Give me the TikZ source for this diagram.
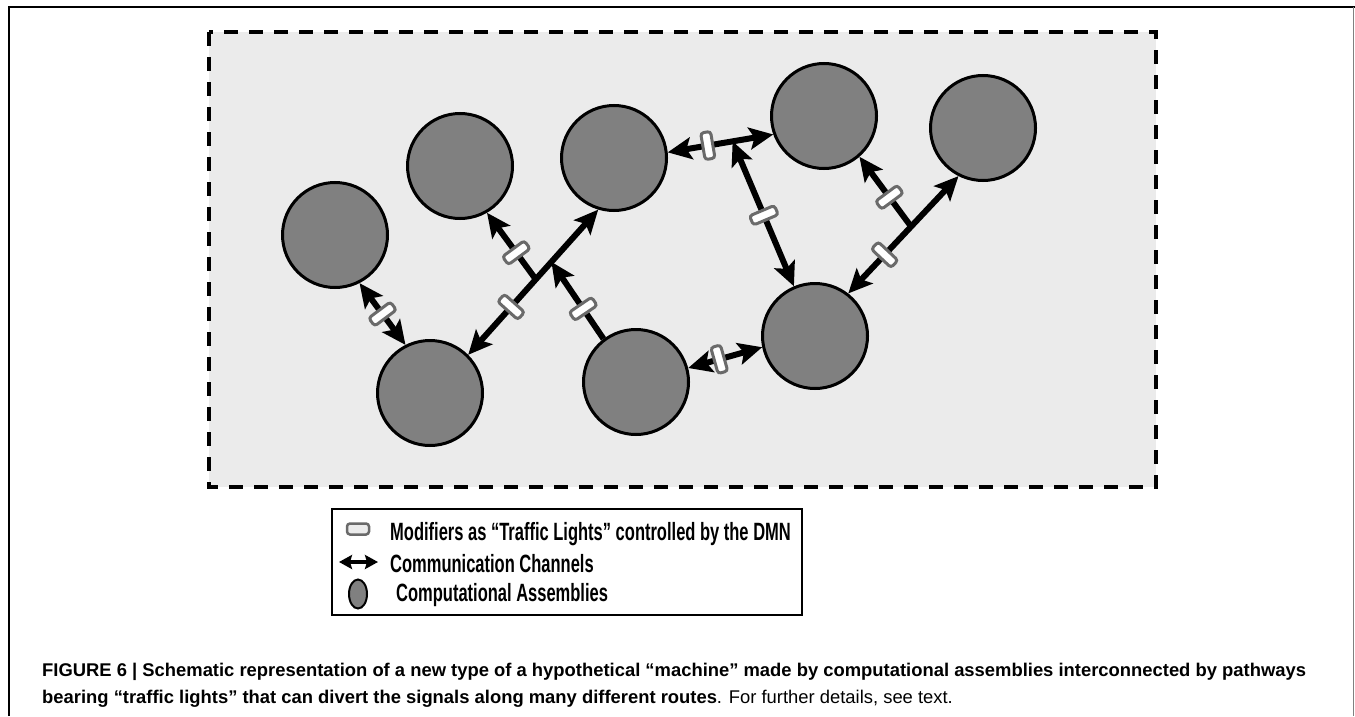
\documentclass[tikz,border=0pt]{standalone}
\usepackage{fontspec}
\setmainfont{Liberation Sans}
\newfontfamily\legendfont[FakeStretch=0.66]{Liberation Sans}
\usetikzlibrary{arrows.meta,shapes.geometric}
\definecolor{panel}{HTML}{EBEBEB}
\definecolor{assemblygray}{HTML}{808080}
\definecolor{lightrim}{HTML}{6A6A6A}
\tikzset{
  assembly/.style={circle,draw=black,line width=3bp,fill=assemblygray,
    minimum size=105bp,inner sep=0pt},
  channel/.style={line width=6bp,draw=black},
  light/.style={draw=lightrim,fill=white,line width=3bp,rounded corners=3bp,
    minimum width=10bp,minimum height=27bp,inner sep=0pt,sloped},
  legendtext/.style={anchor=base west,inner sep=0pt,font=\legendfont\bfseries\fontsize{25bp}{29bp}\selectfont},
}
\begin{document}
\begin{tikzpicture}[x=1bp,y=-1bp,>={Stealth[length=24bp,width=22bp,inset=5bp]}]
      \useasboundingbox (0,0) rectangle (1355,716);
      \draw[line width=1.5bp] (9,716) -- (9,7) -- (1355,7);
      \draw[gray,line width=1bp] (1353,7) -- (1353,716);
      \draw[line width=4bp,dash pattern=on 14bp off 11bp,fill=panel]
        (209,32) rectangle (1156,487);
      \draw
        (335,235) node[assembly] (A){}
        (460,166) node[assembly] (B){}
        (614,158) node[assembly] (C){}
        (824,116) node[assembly] (D){}
        (983,128) node[assembly] (E){}
        (430,393) node[assembly] (F){}
        (636,382) node[assembly] (G){}
        (815,336) node[assembly] (H){};
      \begin{scope}[channel]
        \draw[<->] (A.-63) to node[light,pos=.5] (l1){} (F.117);
        \draw[<->] (F.45) to node[light,pos=.33] (l2){} coordinate[pos=.52] (j1)
          coordinate[pos=.64] (j2) (C.253);
        \draw[->] (j1) to node[light,pos=.4] (l3){} (B.-60);
        \draw[->] (G.127) to node[light,pos=.39] (l4){} (j2);
        \draw[<->] (C.6) to node[light,pos=.38] (l5){} coordinate[pos=.615] (j4) (D.200);
        \draw[<->] (H.113) to node[light,pos=.49] (l6){} (j4);
        \draw[<->] (H.52) to node[light,pos=.33] (l7){} coordinate[pos=.57] (j3) (E.-117);
        \draw[->] (j3) to node[light,pos=.42] (l8){} (D.-49);
        \draw[<->] (G.15) to node[light,pos=.42] (l9){} (H.192);
      \end{scope}
      \draw[line width=2bp] (332,509) rectangle (802,615);
      \draw
        (358,529) node[light,fill=white!85!gray,line width=2.5bp,minimum width=22bp,
          minimum height=11bp] (keylight){}
        (339,562) coordinate (k1)
        (378,562) coordinate (k2)
        (358,594) node[ellipse,draw=black,line width=2bp,fill=assemblygray,
          minimum width=18bp,minimum height=29bp,inner sep=0pt] (keyassembly){};
      \draw[line width=4.5bp,{Stealth[length=13bp,width=14bp,inset=2bp]}-{Stealth[length=13bp,width=14bp,inset=2bp]}]
        (k1) -- (k2);
      \node[legendtext] (t1) at (390,540) {Modifiers as “Traffic Lights” controlled by the DMN};
      \node[legendtext] (t2) at (390,572) {Communication Channels};
      \node[legendtext] (t3) at (396,601) {Computational Assemblies};
      \begin{scope}[font=\fontsize{18.4bp}{22bp}\selectfont]
        \node[anchor=base west,inner sep=0pt] (cap1) at (42,676)
          {\textbf{FIGURE 6 | Schematic representation of a new type of a hypothetical “machine” made by computational assemblies interconnected by pathways}};
        \node[anchor=base west,inner sep=0pt] (cap2) at (42,703)
          {\textbf{bearing “traffic lights” that can divert the signals along many different routes}. For further details, see text.};
      \end{scope}
    \end{tikzpicture}
\end{document}
